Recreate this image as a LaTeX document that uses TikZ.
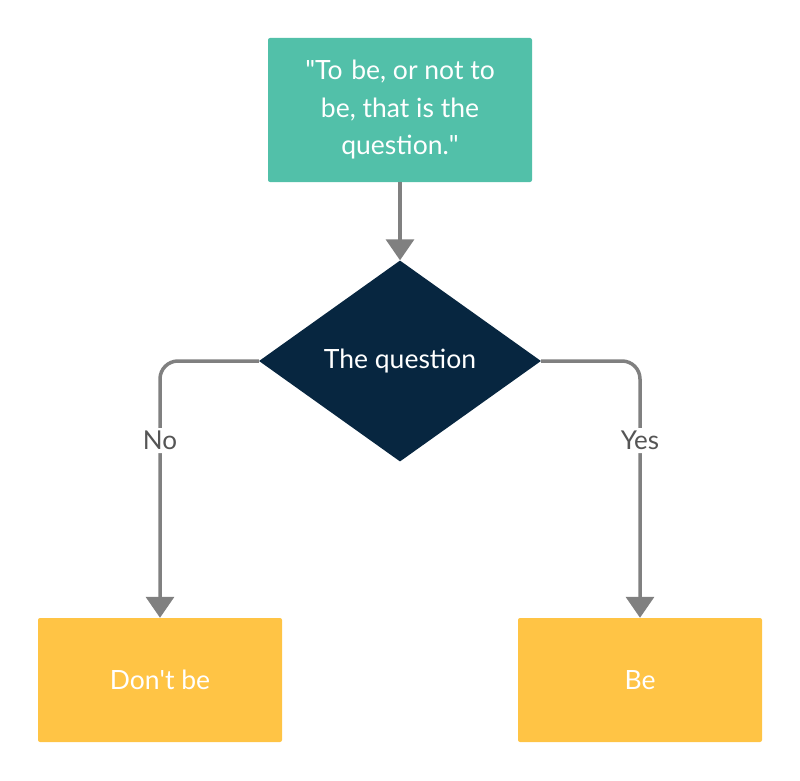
\documentclass[tikz,border=0pt]{standalone}
\usepackage{fontspec}
\setmainfont{Lato}
\usetikzlibrary{arrows.meta,shapes.geometric}
\definecolor{teal1}{RGB}{82,192,169}
\definecolor{navy1}{RGB}{7,38,64}
\definecolor{yell1}{RGB}{255,196,69}
\definecolor{grey1}{RGB}{128,128,128}
\definecolor{lbl1}{RGB}{85,85,85}
\tikzset{
  boxstyle/.style={rounded corners=2pt, inner sep=0pt, text=white, font=\fontsize{26.5}{37.5}\selectfont, align=center},
  conn/.style={draw=grey1, line width=3.5pt, -{Triangle[width=28pt,length=21pt]}, rounded corners=18pt},
  lblstyle/.style={fill=white, text=lbl1, font=\fontsize{26}{30}\selectfont, inner sep=3pt}
}
\begin{document}
\begin{tikzpicture}[x=1pt,y=-1pt]
\useasboundingbox (0,0) rectangle (800,781);
\node[boxstyle, fill=teal1, minimum width=264pt, minimum height=144pt] (top) at (400,110) {\textquotedbl To\,\,be, or not to\\be, that is the\\question.\textquotedbl};
\node[diamond, fill=navy1, inner sep=0pt, minimum width=282pt, minimum height=201pt, aspect=1.4] (dia) at (400,361) {};
\node[text=white, font=\fontsize{26.5}{30}\selectfont] (diat) at (400,361) {The question};
\node[boxstyle, fill=yell1, minimum width=244pt, minimum height=124pt] (no) at (160,680) {Don\textquotesingle t be};
\node[boxstyle, fill=yell1, minimum width=244pt, minimum height=124pt] (yes) at (640,680) {Be};
\draw[conn] (top.south) -- (dia.north);
\draw[conn] (dia.west) -| node[lblstyle, pos=0.655] (nol) {No} (no.north);
\draw[conn] (dia.east) -| node[lblstyle, pos=0.655] (yesl) {Yes} (yes.north);
\end{tikzpicture}
\end{document}
